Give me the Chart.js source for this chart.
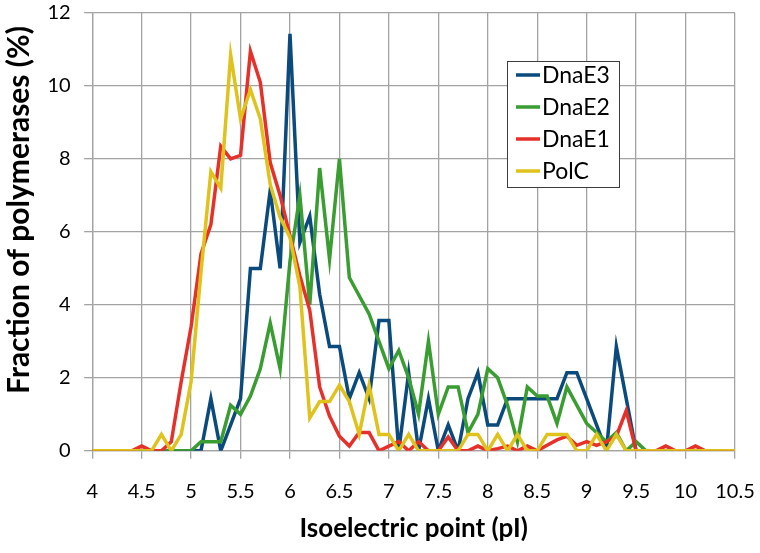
<!DOCTYPE html>
<html>
<head>
<meta charset="utf-8">
<script src="https://cdn.jsdelivr.net/npm/chart.js@4.4.1/dist/chart.umd.min.js"></script>
<style>
  html, body { margin: 0; padding: 0; background: #ffffff; }
  #wrap { width: 760px; height: 553px; position: relative; }
</style>
</head>
<body>
<div id="wrap"><canvas id="pIChart"></canvas></div>
<script>
// isoelectric point bins (x values)
const pI = [
  4.0, 4.1, 4.2, 4.3, 4.4, 4.5, 4.6, 4.7, 4.8, 4.9,
  5.0, 5.1, 5.2, 5.3, 5.4, 5.5, 5.6, 5.7, 5.8, 5.9,
  6.0, 6.1, 6.2, 6.3, 6.4, 6.5, 6.6, 6.7, 6.8, 6.9,
  7.0, 7.1, 7.2, 7.3, 7.4, 7.5, 7.6, 7.7, 7.8, 7.9,
  8.0, 8.1, 8.2, 8.3, 8.4, 8.5, 8.6, 8.7, 8.8, 8.9,
  9.0, 9.1, 9.2, 9.3, 9.4, 9.5, 9.6, 9.7, 9.8, 9.9,
  10.0, 10.1, 10.2, 10.3, 10.4, 10.5
];

// fraction of polymerases (%) per bin
const dnaE3 = [
  0, 0, 0, 0, 0, 0, 0, 0, 0, 0,
  0, 0, 1.43, 0, 0.71, 1.43, 5.0, 5.0, 7.14, 5.0,
  11.43, 5.71, 6.43, 4.29, 2.86, 2.86, 1.43, 2.14, 1.43, 3.57,
  3.57, 0, 2.14, 0, 1.43, 0, 0.71, 0, 1.43, 2.14,
  0.71, 0.71, 1.43, 1.43, 1.43, 1.43, 1.43, 1.43, 2.14, 2.14,
  1.43, 0.71, 0, 2.86, 1.43, 0, 0, 0, 0, 0,
  0, 0, 0, 0, 0, 0
];
const dnaE2 = [
  0, 0, 0, 0, 0, 0, 0, 0, 0, 0,
  0, 0.25, 0.25, 0.25, 1.25, 1.0, 1.5, 2.25, 3.5, 2.25,
  5.2, 7.0, 4.0, 7.75, 5.25, 8.0, 4.75, 4.25, 3.75, 3.0,
  2.25, 2.75, 2.0, 1.0, 3.0, 1.0, 1.75, 1.75, 0.5, 1.0,
  2.25, 2.0, 1.25, 0.25, 1.75, 1.5, 1.5, 0.75, 1.75, 1.25,
  0.75, 0.5, 0.25, 0.5, 0, 0.25, 0, 0, 0, 0,
  0, 0, 0, 0, 0, 0
];
const dnaE1 = [
  0, 0, 0, 0, 0, 0.13, 0, 0, 0.25, 1.9,
  3.4, 5.4, 6.2, 8.35, 8.0, 8.1, 10.95, 10.1, 7.9, 7.0,
  5.9, 4.8, 3.85, 1.75, 0.95, 0.4, 0.13, 0.5, 0.5, 0,
  0.13, 0.25, 0, 0.25, 0, 0, 0.38, 0, 0, 0.13,
  0, 0.06, 0.13, 0, 0.13, 0, 0.15, 0.3, 0.4, 0.15,
  0.25, 0.15, 0.25, 0.4, 1.1, 0, 0, 0, 0.13, 0,
  0, 0.13, 0, 0, 0, 0
];
const polC = [
  0, 0, 0, 0, 0, 0, 0, 0.45, 0, 0.45,
  1.9, 4.9, 7.65, 7.2, 10.85, 9.1, 9.9, 9.1, 7.3, 6.4,
  5.85, 4.5, 0.9, 1.35, 1.35, 1.8, 1.35, 0.45, 1.8, 0.45,
  0.45, 0, 0.45, 0, 0, 0, 0, 0, 0.45, 0.45,
  0, 0.45, 0, 0.45, 0, 0, 0.45, 0.45, 0.45, 0,
  0, 0.45, 0, 0.45, 0, 0, 0, 0, 0, 0,
  0, 0, 0, 0, 0, 0
];

const seriesNames = ["DnaE3", "DnaE2", "DnaE1", "PolC"];
const seriesColors = ["#0b4a7c", "#3a9d31", "#e5312a", "#dfc21c"];
const xTicks = [4, 4.5, 5, 5.5, 6, 6.5, 7, 7.5, 8, 8.5, 9, 9.5, 10, 10.5];
const yTitle = "Fraction of polymerases (%)";
const xTitle = "Isoelectric point (pI)";

const gridColor = "#a3a3a3";
const fontFamily = "Lato, 'Open Sans', sans-serif";

function toPoints(values) {
  return values.map((v, i) => ({ x: pI[i], y: v }));
}

// legend box inside the plot (top right) + y title sitting a bit above centre
const extras = {
  id: "extras",
  afterDatasetsDraw(chart) {
    const ctx = chart.ctx;
    const boxX = 507, boxY = 61, boxW = 112, boxH = 126;
    ctx.save();
    ctx.fillStyle = "#ffffff";
    ctx.fillRect(boxX, boxY, boxW, boxH);
    ctx.strokeStyle = "#3c3c3c";
    ctx.lineWidth = 1;
    ctx.strokeRect(boxX + 0.5, boxY + 0.5, boxW, boxH);
    ctx.font = "23px " + fontFamily;
    ctx.textBaseline = "middle";
    chart.data.datasets.forEach((ds, i) => {
      const y = boxY + 14 + i * 32;
      ctx.strokeStyle = ds.borderColor;
      ctx.lineWidth = 3.5;
      ctx.beginPath();
      ctx.moveTo(boxX + 9, y);
      ctx.lineTo(boxX + 33, y);
      ctx.stroke();
      ctx.fillStyle = "#000000";
      ctx.fillText(ds.label, boxX + 35, y + 1);
    });

    // y axis title
    ctx.translate(19, 210);
    ctx.rotate(-Math.PI / 2);
    ctx.font = "bold 30px " + fontFamily;
    ctx.textAlign = "center";
    ctx.fillText(yTitle, 0, 0);
    ctx.restore();
  },
};

const allSeries = [dnaE3, dnaE2, dnaE1, polC];

new Chart(document.getElementById("pIChart"), {
  type: "line",
  data: {
    datasets: allSeries.map((vals, i) => ({
      label: seriesNames[i],
      data: toPoints(vals),
      borderColor: seriesColors[i],
      backgroundColor: seriesColors[i],
      borderWidth: 3.5,
      pointRadius: 0,
      tension: 0,
      order: allSeries.length - i,
    })),
  },
  options: {
    responsive: true,
    maintainAspectRatio: false,
    animation: false,
    layout: {
      padding: { left: 34, right: 25, top: 13, bottom: 9 },
    },
    plugins: {
      legend: { display: false },
      tooltip: { enabled: false },
    },
    scales: {
      x: {
        type: "linear",
        min: 4,
        max: 10.5,
        afterBuildTicks: (axis) => {
          axis.ticks = xTicks.map((v) => ({ value: v }));
        },
        // let the layout padding alone decide the plot edges
        afterFit: (scale) => {
          scale.paddingLeft = 0;
          scale.paddingRight = 0;
        },
        grid: {
          color: gridColor,
          lineWidth: 1.3,
          tickLength: 8,
        },
        border: { color: gridColor, width: 1.3 },
        ticks: {
          color: "#000000",
          padding: 21,
          maxRotation: 0,
          autoSkip: false,
          font: { family: fontFamily, size: 20 },
          callback: (v) => String(v),
        },
        title: {
          display: true,
          text: xTitle,
          color: "#000000",
          font: { family: fontFamily, size: 26, weight: "bold" },
          padding: { top: -12, bottom: 0 },
        },
      },
      y: {
        min: 0,
        max: 12,
        afterFit: (scale) => {
          scale.paddingTop = 0;
          scale.paddingBottom = 0;
        },
        ticks: {
          stepSize: 2,
          color: "#000000",
          padding: 13.5,
          font: { family: fontFamily, size: 20 },
        },
        grid: {
          color: gridColor,
          lineWidth: 1.3,
          tickLength: 8,
        },
        border: { color: gridColor, width: 1.3 },
      },
    },
  },
  plugins: [extras],
});
</script>
</body>
</html>
